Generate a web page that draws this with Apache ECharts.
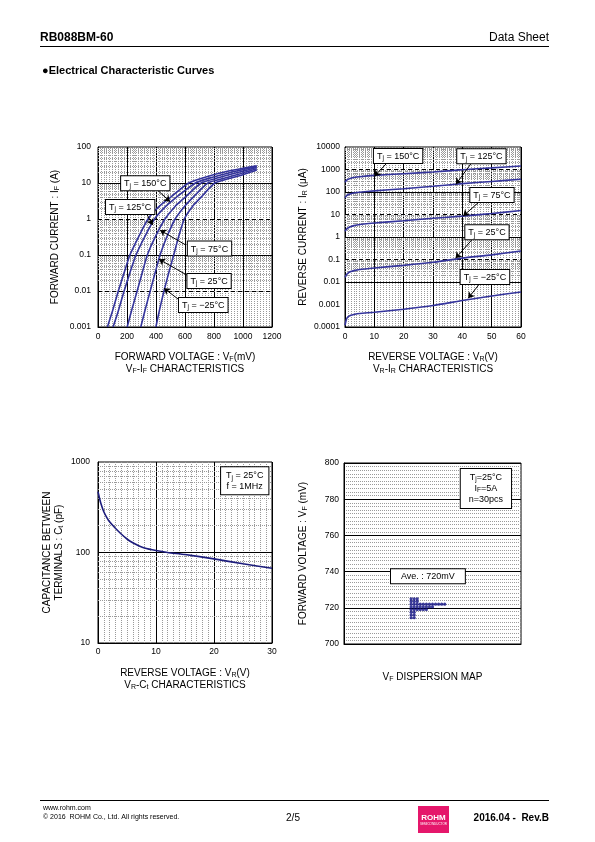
<!DOCTYPE html>
<html><head><meta charset="utf-8">
<script src="https://cdn.jsdelivr.net/npm/echarts@6/dist/echarts.min.js"></script>
<style>html,body{margin:0;padding:0;background:#fff}#c{width:595px;height:842px}</style>
</head><body><div id="c"></div>
<script>
// ---------- DATA ----------
// VF-IF characteristics: [forward voltage mV, forward current A]
const fwd150 = [[65,0.001],[100,0.0028],[140,0.01],[180,0.032],[220,0.1],[280,0.32],[345,1],[420,2.2],[500,4],[625,10],[750,15],[900,21.5],[1000,25.5],[1095,30]];
const fwd125 = [[104,0.001],[140,0.0028],[180,0.01],[220,0.032],[262,0.1],[322,0.32],[390,1],[465,2.2],[540,4],[672,10],[790,14.5],[920,20],[1010,24],[1095,28.5]];
const fwd75  = [[201,0.001],[235,0.0032],[270,0.01],[305,0.032],[340,0.1],[395,0.32],[462,1],[530,2.2],[600,4],[712,10],[830,14],[950,19],[1030,23],[1095,27]];
const fwd25  = [[295,0.001],[327,0.0032],[360,0.01],[394,0.032],[428,0.1],[475,0.32],[532,1],[595,2.2],[655,4],[758,10],[870,13.5],[980,18],[1050,22],[1095,25]];
const fwdM25 = [[399,0.001],[426,0.0032],[455,0.01],[488,0.032],[522,0.1],[556,0.32],[595,1],[650,2.2],[710,4],[805,10],[910,13.5],[1000,17],[1060,20.5],[1095,23]];
const fwdCurTicks = ['0.001','0.01','0.1','1','10','100'];

// VR-IR characteristics: [reverse voltage V, reverse current uA]
const rev150 = [[0,270],[0.5,330],[1,365],[2,410],[3,440],[5,480],[10,550],[20,650],[30,775],[40,980],[50,1180],[60,1430]];
const rev125 = [[0,55],[0.5,68],[1,75],[2,84],[3,90],[5,98],[10,112],[20,140],[30,180],[40,235],[50,295],[60,370]];
const rev75  = [[0,1.8],[0.5,2.2],[1,2.5],[2,2.9],[3,3.2],[5,3.6],[10,4.2],[20,5.3],[30,6.8],[40,8.5],[50,11],[60,15]];
const rev25  = [[0,0.016],[0.5,0.021],[1,0.025],[2,0.029],[3,0.032],[5,0.036],[10,0.042],[20,0.055],[30,0.075],[40,0.115],[50,0.16],[60,0.24]];
const revM25 = [[0,0.00012],[0.5,0.00022],[1,0.00028],[2,0.00033],[3,0.00036],[5,0.0004],[10,0.00045],[20,0.00062],[30,0.0009],[40,0.0015],[50,0.0024],[60,0.0036]];
const revCurTicks = ['0.0001','0.001','0.01','0.1','1','10','100','1000','10000'];

// VR-Ct characteristics
const capVolt = [0,0.25,0.5,1,1.5,2,3,4,5,6,7,8,10,12,15,20,25,30];
const capPf   = [470,400,348,282,245,218,185,160,141,128,119,112,105,100,95,85,75,67];
const capTicks = ['10','100','1000'];

// VF dispersion map: VF level (mV) and number of pieces on that level
const vfLevels = [725, 723.5, 722, 720.5, 719, 717.5, 716, 714.5];
const vfCounts = [3, 3, 12, 8, 6, 2, 2, 2];

// ---------- HELPERS ----------
const FONT = '"Liberation Sans", Arial, Helvetica, sans-serif';
const nameRich = {
  n: {fontSize: 10, lineHeight: 12, fontFamily: FONT, color: '#000'},
  s: {fontSize: 7, lineHeight: 7, verticalAlign: 'bottom', fontFamily: FONT, color: '#000'}
};
const boxRich = {
  a: {fontSize: 9, lineHeight: 11, fontFamily: FONT, color: '#000'},
  b: {fontSize: 6.5, lineHeight: 6, verticalAlign: 'bottom', fontFamily: FONT, color: '#000'}
};
const minorStyle = {color: '#9a9a9a', width: 1, type: [1, 1]};
function logFmt(list) {
  return v => { for (const s of list) { if (Math.abs(Math.log10(+s) - Math.log10(v)) < 1e-3) return s; } return ''; };
}
function logGrid(minExp, maxExp, dashedExps) {
  const arr = [];
  for (let e = minExp; e < maxExp; e++) {
    for (let m = 2; m <= 9; m++) arr.push({yAxis: m * Math.pow(10, e), lineStyle: minorStyle});
  }
  for (let e = minExp + 1; e < maxExp; e++) {
    arr.push({yAxis: Math.pow(10, e), lineStyle: {color: '#000', width: 1, type: dashedExps.indexOf(e) >= 0 ? [4, 3] : 'solid'}});
  }
  return arr;
}
function gridSeries(i, lines) {
  return {type: 'line', xAxisIndex: i, yAxisIndex: i, data: [], silent: true, z: 1,
    markLine: {z: 1, silent: true, animation: false, symbol: ['none', 'none'], label: {show: false}, emphasis: {disabled: true}, data: lines}};
}
function curve(i, data, color) {
  return {type: 'line', xAxisIndex: i, yAxisIndex: i, data: data, showSymbol: false, symbol: 'none',
    smooth: 0.2, silent: true, z: 3, lineStyle: {color: color, width: 1.6}};
}
function annot(i, boxes, arrows) {
  return {type: 'line', xAxisIndex: i, yAxisIndex: i, data: [], silent: true, z: 6,
    markLine: {z: 6, silent: true, animation: false, symbol: ['none', 'arrow'], symbolSize: 6, label: {show: false},
      lineStyle: {color: '#000', width: 1, type: 'solid'}, emphasis: {disabled: true},
      data: arrows.map(a => [{coord: a[0]}, {coord: a[1]}])},
    markPoint: {z: 7, silent: true, animation: false, symbol: 'rect', symbolSize: 1, itemStyle: {color: 'rgba(0,0,0,0)'},
      label: {show: true, position: 'inside', backgroundColor: '#fff', borderColor: '#000', borderWidth: 1,
        padding: [2, 3, 1, 3], align: 'center', rich: boxRich},
      data: boxes.map(b => ({coord: b[0], label: {formatter: b[1], padding: b[2] || [2, 3, 1, 3]}}))}};
}
const axisLbl = (m) => ({fontSize: 8.5, color: '#000', fontFamily: FONT, margin: m, formatter: v => String(v)});
const yLine = {show: true, onZero: false, lineStyle: {color: '#000'}};

// ---------- ANNOTATIONS (data coordinates) ----------
const ann1Boxes = [
  [[326, 9.8], '{a|T}{b|j}{a| = 150°C}'],
  [[222, 2.17], '{a|T}{b|j}{a| = 125°C}'],
  [[769, 0.151], '{a|T}{b|j}{a| = 75°C}'],
  [[766, 0.019], '{a|T}{b|j}{a| = 25°C}'],
  [[726, 0.0041], '{a|T}{b|j}{a| = −25°C}']
];
const ann1Arrows = [
  [[409, 6.4], [497, 3.03]], [[336, 1.38], [377, 0.68]], [[605, 0.19], [428, 0.49]],
  [[612, 0.0278], [421, 0.076]], [[554, 0.0059], [455, 0.0119]]
];
const ann2Boxes = [
  [[18.1, 3981], '{a|T}{b|j}{a| = 150°C}'],
  [[46.5, 3862], '{a|T}{b|j}{a| = 125°C}'],
  [[50.1, 73.6], '{a|T}{b|j}{a| = 75°C}'],
  [[48.4, 1.63], '{a|T}{b|j}{a| = 25°C}'],
  [[47.7, 0.0167], '{a|T}{b|j}{a| = −25°C}']
];
const ann2Arrows = [
  [[14.4, 2005], [10, 500]], [[43.2, 2005], [37.8, 220]], [[45.8, 37], [40.3, 8.6]],
  [[43.7, 0.875], [37.7, 0.113]], [[46, 0.00875], [42, 0.00189]]
];
const ann3Boxes = [[[25.3, 620], '{a|T}{b|j}{a| = 25°C}\n{a|f = 1MHz}', [3, 5, 2, 5]]];
const ann4Boxes = [
  [[24.5, 785.9], '{a|T}{b|j}{a|=25°C}\n{a|I}{b|F}{a|=5A}\n{a|n=30pcs}', [3, 8, 3, 8]],
  [[5.5, 737.5], '{a|Ave. : 720mV}', [2, 10, 1, 10]]
];

// dispersion dots built from level/count table
const vfDots = [];
vfLevels.forEach((lv, r) => { for (let k = 0; k < vfCounts[r]; k++) vfDots.push([k, lv]); });

const blue = '#34349c';
const option = {
  animation: false,
  textStyle: {fontFamily: FONT},
  grid: [
    {left: 98, top: 147, width: 174, height: 180, show: true, borderColor: '#000', borderWidth: 1, backgroundColor: '#fff'},
    {left: 345, top: 147, width: 176, height: 180, show: true, borderColor: '#000', borderWidth: 1, backgroundColor: '#fff'},
    {left: 98, top: 462, width: 174, height: 181, show: true, borderColor: '#000', borderWidth: 1, backgroundColor: '#fff'},
    {left: 344, top: 463, width: 177, height: 181, show: true, borderColor: '#000', borderWidth: 1, backgroundColor: '#fff'}
  ],
  xAxis: [
    {gridIndex: 0, type: 'value', min: 0, max: 1200, interval: 200,
      axisLine: yLine, axisTick: {show: false}, axisLabel: axisLbl(5),
      splitLine: {show: true, lineStyle: {color: '#000', width: 1}}, minorTick: {show: false, splitNumber: 10}, minorSplitLine: {show: true, lineStyle: minorStyle},
      name: '{n|FORWARD VOLTAGE : V}{s|F}{n|(mV)}\n{n|V}{s|F}{n|-I}{s|F}{n| CHARACTERISTICS}', nameLocation: 'middle', nameGap: 24, nameTextStyle: {rich: nameRich}},
    {gridIndex: 1, type: 'value', min: 0, max: 60, interval: 10,
      axisLine: yLine, axisTick: {show: false}, axisLabel: axisLbl(5),
      splitLine: {show: true, lineStyle: {color: '#000', width: 1}}, minorTick: {show: false, splitNumber: 10}, minorSplitLine: {show: true, lineStyle: minorStyle},
      name: '{n|REVERSE VOLTAGE : V}{s|R}{n|(V)}\n{n|V}{s|R}{n|-I}{s|R}{n| CHARACTERISTICS}', nameLocation: 'middle', nameGap: 24, nameTextStyle: {rich: nameRich}},
    {gridIndex: 2, type: 'value', min: 0, max: 30, interval: 10,
      axisLine: yLine, axisTick: {show: false}, axisLabel: axisLbl(4),
      splitLine: {show: true, lineStyle: {color: '#000', width: 1}}, minorTick: {show: false, splitNumber: 10}, minorSplitLine: {show: true, lineStyle: minorStyle},
      name: '{n|REVERSE VOLTAGE : V}{s|R}{n|(V)}\n{n|V}{s|R}{n|-C}{s|t}{n| CHARACTERISTICS}', nameLocation: 'middle', nameGap: 24, nameTextStyle: {rich: nameRich}},
    {gridIndex: 3, type: 'value', min: -22, max: 36,
      axisLine: yLine, axisTick: {show: false}, axisLabel: {show: false},
      splitLine: {show: false},
      name: '{n|V}{s|F}{n| DISPERSION MAP}', nameLocation: 'middle', nameGap: 27, nameTextStyle: {rich: nameRich}}
  ],
  yAxis: [
    {gridIndex: 0, type: 'log', logBase: 10, min: 0.001, max: 100,
      axisLine: yLine, axisTick: {show: false},
      axisLabel: Object.assign(axisLbl(7), {formatter: logFmt(fwdCurTicks)}), splitLine: {show: false},
      name: '{n|FORWARD CURRENT : I}{s|F}{n| (A)}', nameLocation: 'middle', nameGap: 37, nameTextStyle: {rich: nameRich}},
    {gridIndex: 1, type: 'log', logBase: 10, min: 0.0001, max: 10000,
      axisLine: yLine, axisTick: {show: false},
      axisLabel: Object.assign(axisLbl(5), {formatter: logFmt(revCurTicks)}), splitLine: {show: false},
      name: '{n|REVERSE CURRENT : I}{s|R}{n| (μA)}', nameLocation: 'middle', nameGap: 36, nameTextStyle: {rich: nameRich}},
    {gridIndex: 2, type: 'log', logBase: 10, min: 10, max: 1000,
      axisLine: yLine, axisTick: {show: false},
      axisLabel: Object.assign(axisLbl(8), {formatter: logFmt(capTicks)}), splitLine: {show: false},
      name: '{n|CAPACITANCE BETWEEN}\n{n|TERMINALS : C}{s|t}{n| (pF)}', nameLocation: 'middle', nameGap: 33, nameTextStyle: {rich: nameRich}},
    {gridIndex: 3, type: 'value', min: 700, max: 800, interval: 20,
      axisLine: yLine, axisTick: {show: false}, axisLabel: axisLbl(5),
      splitLine: {show: true, lineStyle: {color: '#000', width: 1}}, minorTick: {show: false, splitNumber: 10}, minorSplitLine: {show: true, lineStyle: minorStyle},
      name: '{n|FORWARD VOLTAGE : V}{s|F}{n| (mV)}', nameLocation: 'middle', nameGap: 35, nameTextStyle: {rich: nameRich}}
  ],
  series: [
    gridSeries(0, logGrid(-3, 2, [0, -2])),
    gridSeries(1, logGrid(-4, 4, [3, 1, -1, -3])),
    gridSeries(2, logGrid(1, 3, [])),
    curve(0, fwd150, blue), curve(0, fwd125, blue), curve(0, fwd75, blue), curve(0, fwd25, blue), curve(0, fwdM25, blue),
    curve(1, rev150, blue), curve(1, rev125, blue), curve(1, rev75, blue), curve(1, rev25, blue), curve(1, revM25, blue),
    curve(2, capVolt.map((v, i) => [v, capPf[i]]), '#1c1c7c'),
    {type: 'scatter', xAxisIndex: 3, yAxisIndex: 3, data: vfDots, symbol: 'circle', symbolSize: 3.2, silent: true, z: 4,
      itemStyle: {color: '#0b0b80'}},
    annot(0, ann1Boxes, ann1Arrows),
    annot(1, ann2Boxes, ann2Arrows),
    annot(2, ann3Boxes, []),
    annot(3, ann4Boxes, [])
  ],
  graphic: [
    {type: 'text', x: 40, y: 38, style: {text: 'RB088BM-60', font: 'bold 12px ' + FONT, fill: '#000', textAlign: 'left', textVerticalAlign: 'middle', verticalAlign: 'middle'}},
    {type: 'text', x: 549, y: 38, style: {text: 'Data Sheet', font: '12px ' + FONT, fill: '#000', textAlign: 'right', textVerticalAlign: 'middle', verticalAlign: 'middle'}},
    {type: 'line', shape: {x1: 40, y1: 46.5, x2: 549, y2: 46.5}, style: {stroke: '#000', lineWidth: 1}},
    {type: 'text', x: 42, y: 71, style: {text: '●Electrical Characteristic Curves', font: 'bold 11px ' + FONT, fill: '#000', textAlign: 'left', textVerticalAlign: 'middle', verticalAlign: 'middle'}},
    {type: 'line', shape: {x1: 40, y1: 800.5, x2: 549, y2: 800.5}, style: {stroke: '#000', lineWidth: 1}},
    {type: 'text', x: 43, y: 808, style: {text: 'www.rohm.com', font: '7px ' + FONT, fill: '#000', textAlign: 'left', textVerticalAlign: 'middle', verticalAlign: 'middle'}},
    {type: 'text', x: 43, y: 817, style: {text: '© 2016  ROHM Co., Ltd. All rights reserved.', font: '7px ' + FONT, fill: '#000', textAlign: 'left', textVerticalAlign: 'middle', verticalAlign: 'middle'}},
    {type: 'text', x: 293, y: 818, style: {text: '2/5', font: '10px ' + FONT, fill: '#000', textAlign: 'center', textVerticalAlign: 'middle', verticalAlign: 'middle'}},
    {type: 'rect', shape: {x: 418, y: 806, width: 31, height: 27}, style: {fill: '#e5176b'}},
    {type: 'text', x: 433.5, y: 818, style: {text: 'ROHM', font: 'bold 8px ' + FONT, fill: '#fff', textAlign: 'center', textVerticalAlign: 'middle', verticalAlign: 'middle'}},
    {type: 'text', x: 433.5, y: 824, style: {text: 'SEMICONDUCTOR', font: '3px ' + FONT, fill: '#fff', textAlign: 'center', textVerticalAlign: 'middle', verticalAlign: 'middle'}},
    {type: 'text', x: 549, y: 818, style: {text: '2016.04 -  Rev.B', font: 'bold 10px ' + FONT, fill: '#000', textAlign: 'right', textVerticalAlign: 'middle', verticalAlign: 'middle'}}
  ]
};
const chart = echarts.init(document.getElementById('c'), null, {renderer: 'canvas'});
chart.setOption(option);
</script>
</body></html>
